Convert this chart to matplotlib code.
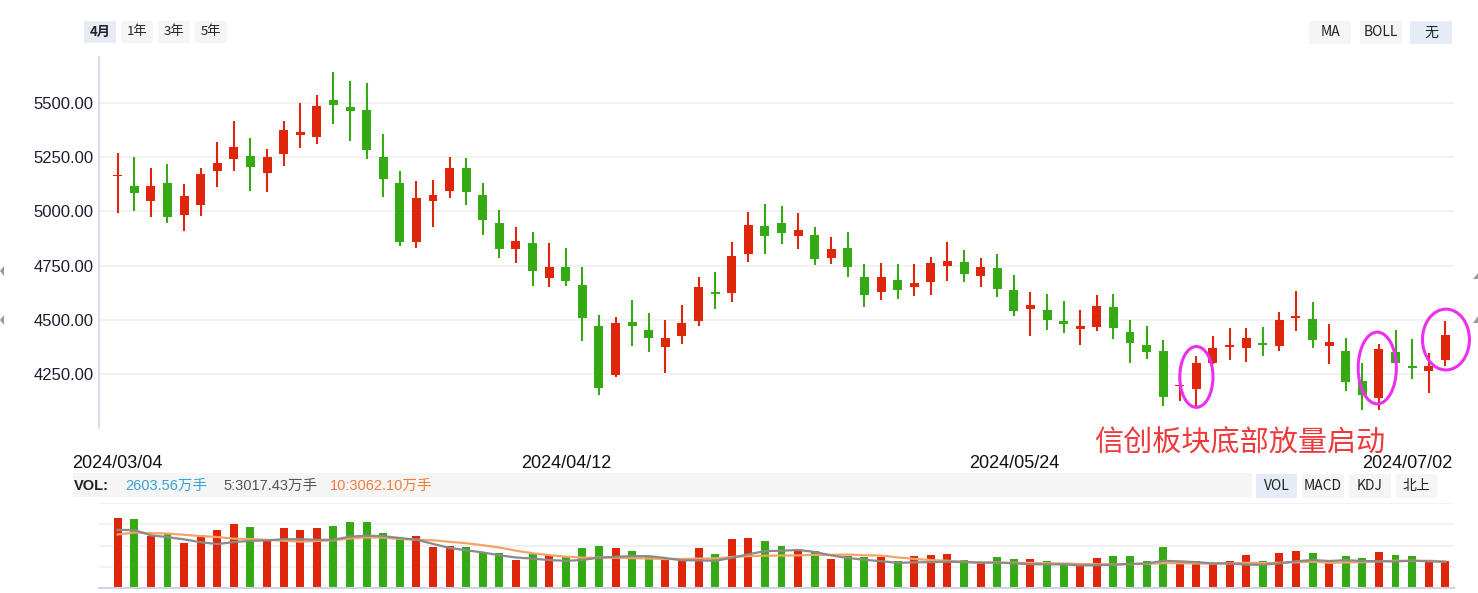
import matplotlib
matplotlib.use('Agg')
import matplotlib.pyplot as plt
import matplotlib.transforms as mtransforms
import numpy as np
import pandas as pd
from matplotlib.patches import Ellipse, Rectangle, Polygon

plt.rcParams['font.family'] = ['Liberation Sans', 'Noto Sans CJK SC', 'DejaVu Sans']

# ---------------- data ----------------
date_labels = ['2024/03/04', '2024/04/12', '2024/05/24', '2024/07/02']
date_label_idx = [0, 27, 54, 80]

opens = [5162, 5115, 5048, 5129, 4983, 5029, 5186, 5241, 5253, 5176,
         5264, 5351, 5342, 5511, 5479, 5466, 5249, 5129, 4859, 5048,
         5094, 5199, 5074, 4945, 4827, 4853, 4693, 4742, 4659, 4474,
         4245, 4493, 4456, 4375, 4425, 4494, 4627, 4624, 4803, 4931,
         4945, 4886, 4889, 4785, 4829, 4700, 4628, 4682, 4651, 4676,
         4750, 4767, 4704, 4739, 4637, 4551, 4545, 4494, 4458, 4468,
         4559, 4443, 4383, 4355, 4194, 4181, 4302, 4376, 4371, 4393,
         4380, 4509, 4503, 4380, 4356, 4218, 4141, 4351, 4285, 4265, 4316]
highs = [5267, 5248, 5198, 5216, 5124, 5198, 5317, 5414, 5336, 5285,
         5414, 5497, 5534, 5640, 5598, 5591, 5355, 5185, 5139, 5143,
         5249, 5245, 5129, 5005, 4927, 4903, 4853, 4830, 4742, 4521,
         4516, 4594, 4534, 4502, 4567, 4696, 4719, 4857, 4995, 5032,
         5023, 4991, 4926, 4880, 4903, 4756, 4760, 4756, 4757, 4790,
         4860, 4823, 4785, 4804, 4707, 4628, 4619, 4586, 4545, 4614,
         4619, 4498, 4471, 4406, 4282, 4336, 4425, 4462, 4462, 4466,
         4535, 4632, 4581, 4480, 4416, 4301, 4388, 4452, 4411, 4347, 4494]
lows = [4992, 5002, 4974, 4946, 4910, 4979, 5112, 5186, 5094, 5089,
        5209, 5291, 5310, 5402, 5324, 5242, 5066, 4840, 4831, 4928,
        5062, 5030, 4891, 4785, 4762, 4656, 4651, 4656, 4402, 4153,
        4236, 4379, 4352, 4255, 4388, 4471, 4550, 4582, 4766, 4803,
        4849, 4826, 4753, 4757, 4697, 4559, 4591, 4596, 4611, 4616,
        4681, 4676, 4653, 4606, 4519, 4426, 4454, 4440, 4384, 4449,
        4412, 4301, 4319, 4106, 4125, 4106, 4298, 4316, 4307, 4334,
        4357, 4449, 4371, 4298, 4173, 4086, 4086, 4302, 4229, 4164, 4288]
closes = [5166, 5084, 5115, 4974, 5069, 5170, 5221, 5294, 5204, 5248,
          5373, 5364, 5483, 5489, 5462, 5283, 5149, 4859, 5060, 5074,
          5199, 5089, 4960, 4827, 4862, 4725, 4742, 4679, 4508, 4185,
          4488, 4471, 4416, 4415, 4484, 4654, 4619, 4793, 4935, 4886,
          4900, 4912, 4780, 4825, 4743, 4614, 4700, 4637, 4668, 4762,
          4772, 4713, 4744, 4644, 4542, 4568, 4500, 4481, 4471, 4563,
          4463, 4394, 4352, 4144, 4202, 4304, 4370, 4383, 4416, 4385,
          4498, 4517, 4408, 4397, 4215, 4155, 4365, 4302, 4279, 4287, 4429]

# volume in 万手
volumes = [6710, 6614, 4993, 5183, 4325, 5088, 5565, 6137, 5851, 4611,
           5756, 5565, 5756, 5947, 6328, 6328, 5279, 4706, 4993, 3943,
           4039, 3943, 3466, 3371, 2703, 3371, 3180, 2989, 3848, 4039,
           3848, 3562, 2989, 2798, 2703, 3848, 3275, 4706, 4802, 4516,
           4039, 3752, 3562, 2798, 3085, 2989, 2989, 2608, 3085, 3180,
           3275, 2703, 2417, 2989, 2798, 2798, 2608, 2417, 2417, 2894,
           3085, 3085, 2608, 3943, 2608, 2608, 2417, 2608, 3180, 2608,
           3371, 3562, 3371, 2608, 3085, 2894, 3466, 3180, 3085, 2703, 2604]
# volumes of the days before the visible window (feed the moving averages)
prev_volumes = [4400, 5700, 5600, 5800, 6500, 6700, 8000, 6200, 5600]

vol_info = ['2603.56万手', '5:3017.43万手', '10:3062.10万手']
price_ticks = [4250, 4500, 4750, 5000, 5250, 5500]
highlight_idx = [65, 76, 80]
annotation = '信创板块底部放量启动'

# ---------------- style ----------------
W, H = 1478, 593
RED = '#e0260a'
GREEN = '#35aa14'
GRID = '#f0f2f5'
AXIS = '#ccd6eb'
MAGENTA = '#ee2ef0'

fig = plt.figure(figsize=(W / 100, H / 100), dpi=100)
fig.patch.set_facecolor('white')


def fx(x):
    return x / W


def fy(y):
    return 1 - y / H


n = len(opens)
xs = np.arange(n)
o = np.array(opens, float)
c = np.array(closes, float)
hi = np.array(highs, float)
lo = np.array(lows, float)
up = c >= o
colors = np.where(up, RED, GREEN)

ax_left_px, ax_right_px = 99, 1454
step = (1445.3 - 117.7) / 80.0
xlim = (-(117.7 - ax_left_px) / step, 80 + (ax_right_px - 1445.3) / step)

# ---------------- main candlestick axes ----------------
ax = fig.add_axes([fx(ax_left_px), fy(428), fx(ax_right_px - ax_left_px), (428 - 57) / H])
ax.set_xlim(*xlim)
ax.set_ylim(4003, 5710)
for s in ['top', 'right', 'bottom']:
    ax.spines[s].set_visible(False)
ax.spines['left'].set_color(AXIS)
ax.spines['left'].set_linewidth(1.2)
ax.set_yticks(price_ticks)
ax.set_yticklabels([f'{v:.2f}' for v in price_ticks])
ax.tick_params(axis='y', length=0, pad=4, labelsize=12, labelcolor='#1c1c30')
ax.set_xticks([])
ax.grid(axis='y', color=GRID, linewidth=1.5)
ax.set_axisbelow(True)

ax.vlines(xs, lo, hi, colors=colors, linewidth=1.5, zorder=2)
body_h = np.maximum(np.abs(c - o), 7)
body_b = np.minimum(o, c)
ax.bar(xs, body_h, bottom=body_b, width=0.54, color=colors, linewidth=0, zorder=3)

# highlight ellipses
ell_specs = [(0.0, 4238, 2.0, 280), (-0.1, 4279, 2.3, 330), (0.04, 4410, 2.83, 280)]
for i, (dx, yc, w, h) in zip(highlight_idx, ell_specs):
    e = Ellipse((i + dx, yc), w, h, fill=False, edgecolor=MAGENTA, linewidth=2.2,
                zorder=5, clip_on=False)
    ax.add_patch(e)

# date labels
trans = mtransforms.blended_transform_factory(ax.transData, fig.transFigure)
for k, (i, lab) in enumerate(zip(date_label_idx, date_labels)):
    if k == len(date_labels) - 1:
        ax.text(xlim[1] - 0.1, fy(463), lab, transform=trans, ha='right', va='center',
                fontsize=13, color='#111111')
    else:
        ax.text(i, fy(463), lab, transform=trans, ha='center', va='center',
                fontsize=13, color='#111111')

# annotation
fig.text(fx(1240), fy(443), annotation, ha='center', va='center', fontsize=21,
         color='#f0393c', family=['Noto Sans CJK SC'])

# ---------------- volume axes ----------------
vol_top, vol_bot = 502.7, 588.3
axv = fig.add_axes([fx(ax_left_px), fy(vol_bot), fx(ax_right_px - ax_left_px), (vol_bot - vol_top) / H])
bar_scale = 95.4   # 万手 per pixel for bars
line_scale = 113.7  # 万手 per pixel for MA lines
vtop = (vol_bot - vol_top) * bar_scale
axv.set_xlim(*xlim)
axv.set_ylim(0, vtop)
axv.set_yticks([vtop * k / 4 for k in range(1, 5)])
axv.set_yticklabels([])
axv.set_xticks([])
axv.tick_params(length=0)
axv.grid(axis='y', color=GRID, linewidth=1.5)
axv.set_axisbelow(True)
for s in ['top', 'right', 'left']:
    axv.spines[s].set_visible(False)
axv.spines['bottom'].set_color(AXIS)
axv.spines['bottom'].set_linewidth(1.5)
axv.bar(xs, volumes, width=0.48, color=colors, linewidth=0, zorder=2)

all_vol = pd.Series(prev_volumes + volumes, dtype=float)
ma5 = all_vol.rolling(5).mean().to_numpy()[len(prev_volumes):]
ma10 = all_vol.rolling(10).mean().to_numpy()[len(prev_volumes):]
axl = axv.twinx()
axl.set_ylim(0, (vol_bot - vol_top) * line_scale)
axl.set_xlim(*xlim)
axl.axis('off')
axl.plot(xs, ma10, color='#f4a466', linewidth=1.6, zorder=3)
axl.plot(xs, ma5, color='#8a8a8a', linewidth=1.6, zorder=4)

# VOL info band
fig.patches.append(Rectangle((fx(73), fy(497.3)), fx(1252 - 73), (497.3 - 473.3) / H,
                             transform=fig.transFigure, facecolor='#f5f5f5', edgecolor='none', zorder=0))
fig.text(fx(74), fy(486), 'VOL:', ha='left', va='center', fontsize=10.5, fontweight='bold', color='#222222')
fam = ['Liberation Sans', 'Noto Sans CJK SC']
fig.text(fx(125), fy(486), vol_info[0], ha='left', va='center', fontsize=10.5, color='#3ba3d6', family=fam)
fig.text(fx(223), fy(486), vol_info[1], ha='left', va='center', fontsize=10.5, color='#555555', family=fam)
fig.text(fx(330), fy(486), vol_info[2], ha='left', va='center', fontsize=10.5, color='#f07d3c', family=fam)


def button(x0, x1, y0, y1, label, bg, bold=False, fs=10):
    fig.patches.append(Rectangle((fx(x0), fy(y1)), fx(x1 - x0), (y1 - y0) / H,
                                 transform=fig.transFigure, facecolor=bg, edgecolor='none', zorder=0))
    fig.text(fx((x0 + x1) / 2), fy((y0 + y1) / 2), label, ha='center', va='center', fontsize=fs,
             color='#222222', fontweight='bold' if bold else 'normal',
             family=['Noto Sans CJK SC', 'DejaVu Sans'])


# top-left period buttons
button(84, 116, 21, 43, '4月', '#e6ebf5', bold=True, fs=9.5)
button(121, 153, 21, 43, '1年', '#f5f5f5', fs=9.5)
button(158, 190, 21, 43, '3年', '#f5f5f5', fs=9.5)
button(195, 227, 21, 43, '5年', '#f5f5f5', fs=9.5)
# top-right indicator buttons
button(1309, 1351, 21, 44, 'MA', '#f5f5f5', fs=10)
button(1360, 1402, 21, 44, 'BOLL', '#f5f5f5', fs=10)
button(1410, 1452, 21, 44, '无', '#e3ecf7', fs=10)
# lower indicator buttons
button(1256, 1297, 474, 498, 'VOL', '#e3ecf7', fs=10)
button(1302, 1344, 474, 498, 'MACD', '#f5f5f5', fs=10)
button(1349, 1391, 474, 498, 'KDJ', '#f5f5f5', fs=10)
button(1396, 1437, 474, 498, '北上', '#f5f5f5', fs=10)

# small side arrows
for pts in ([(0, 271), (4, 266), (4, 276)], [(0, 320), (4, 315), (4, 325)],
            [(1478, 273), (1473, 279), (1478, 279)], [(1478, 316), (1473, 323), (1478, 323)]):
    fig.patches.append(Polygon([(fx(px), fy(py)) for px, py in pts], closed=True,
                               transform=fig.transFigure, facecolor='#9a9a9a', edgecolor='none'))

fig.savefig('out.png', dpi=100, facecolor='white')
